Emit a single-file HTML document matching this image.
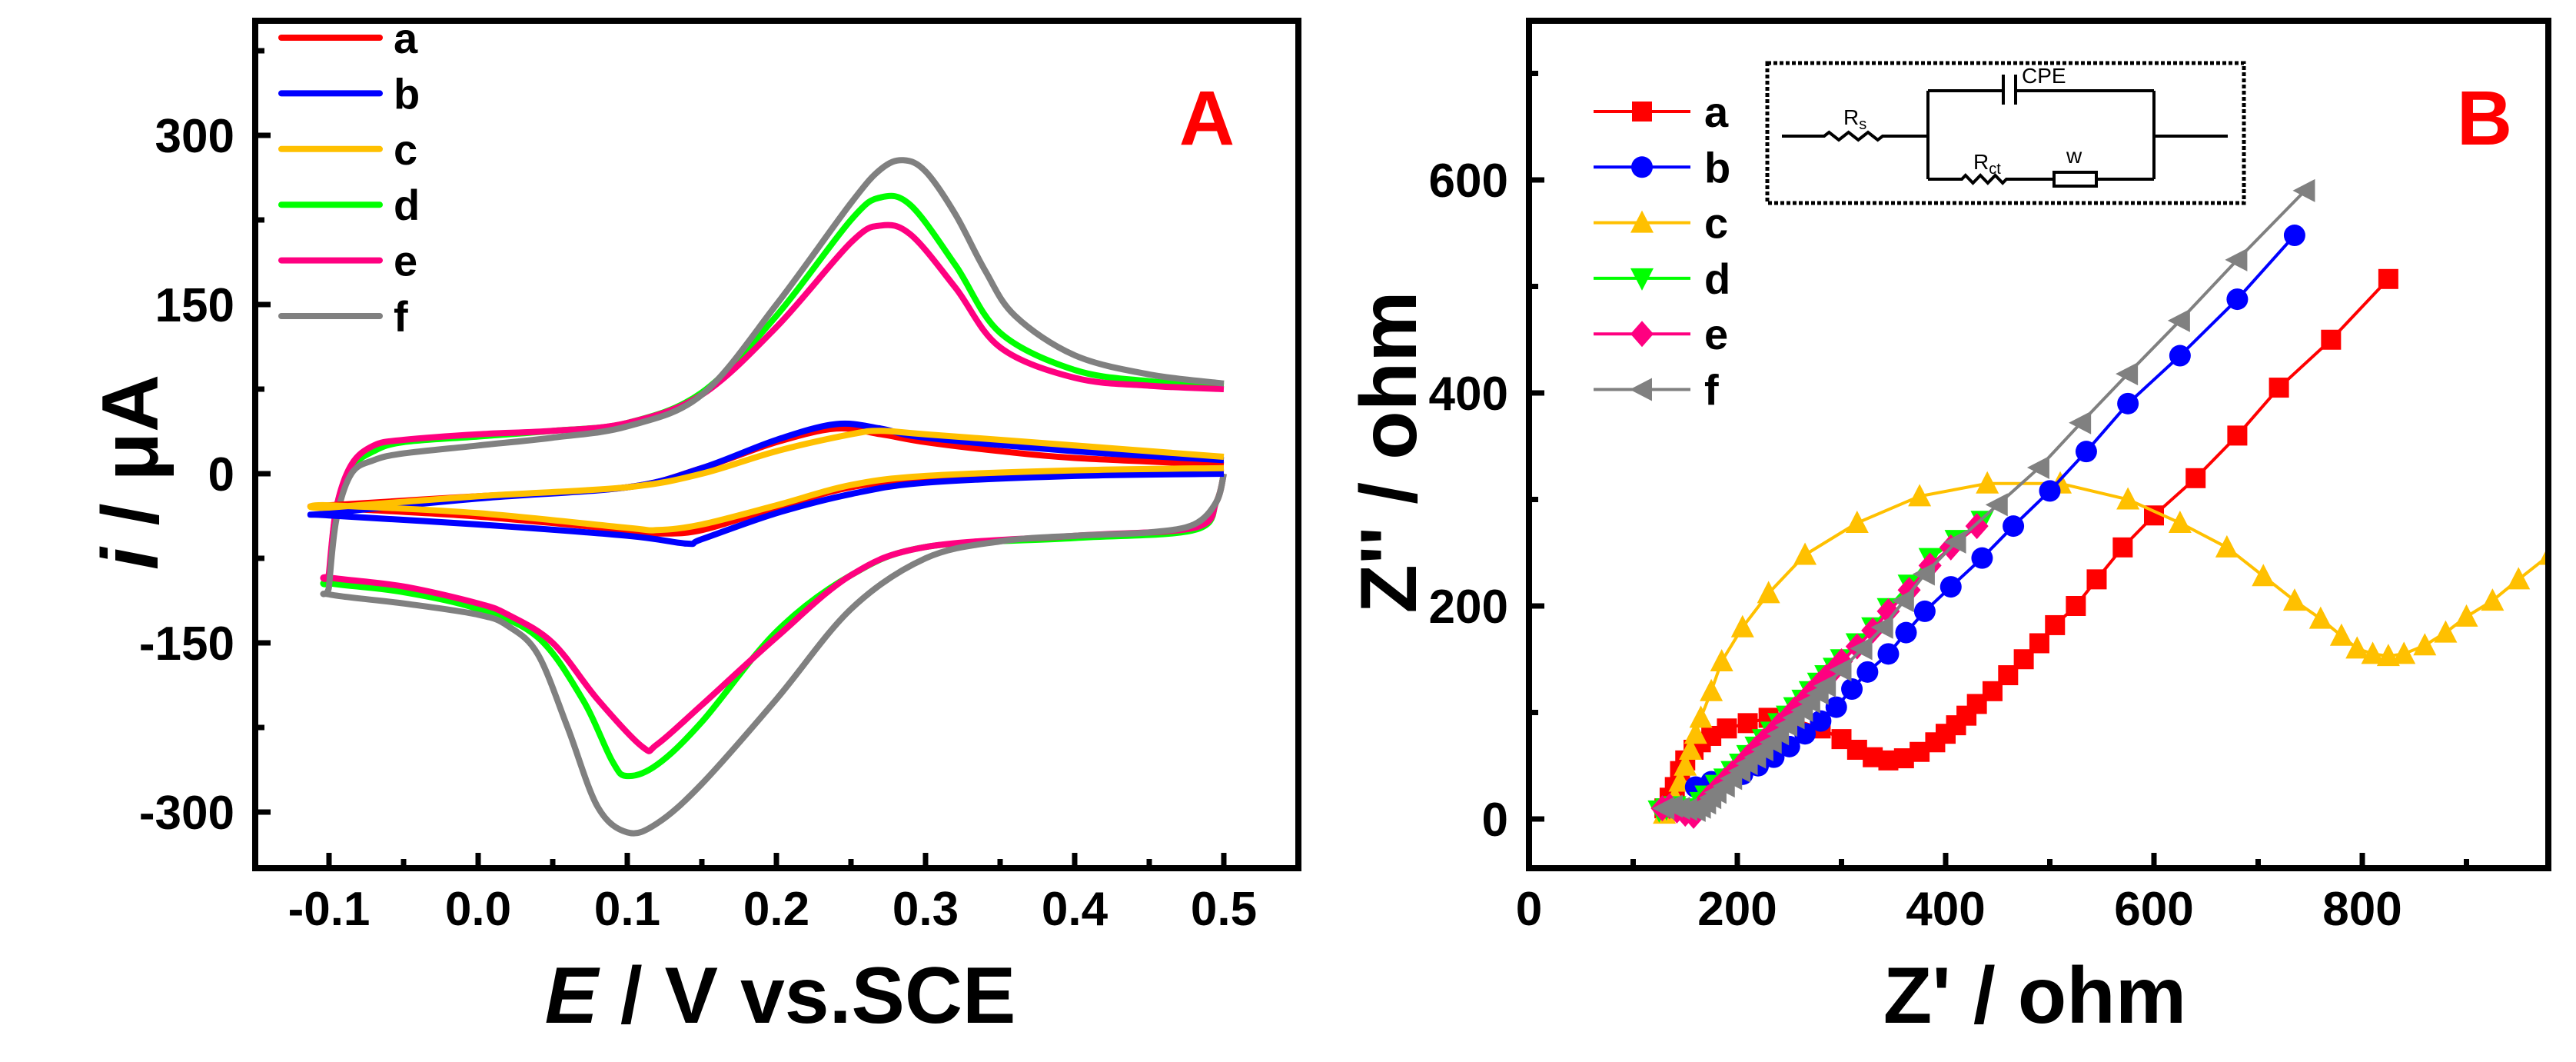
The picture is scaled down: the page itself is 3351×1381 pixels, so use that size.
<!DOCTYPE html>
<html><head><meta charset="utf-8"><style>
html,body{margin:0;padding:0;background:#fff;}
svg{display:block;font-family:"Liberation Sans",Arial,sans-serif;font-weight:bold;}
</style></head><body>
<svg id="root" width="3351" height="1381" viewBox="0 0 3351 1381" xmlns="http://www.w3.org/2000/svg">
<g id="panelA"></g>
<g id="panelB"></g>
</svg>
<script>
// ---------- Panel A data (CV): cathodic branch from 0.5 to -0.1, then anodic back to 0.5 ----------
const cvSeriesNames = ['a','b','c','d','e','f'];
const cvColors = ['#ff0000','#0000ff','#ffc000','#00ff00','#ff0080','#808080'];
const cvE_a = [0.5,0.4,0.3,0.25,0.2,0.15,0.12,0.1,0.0,-0.1, -0.1,0.0,0.1,0.15,0.2,0.24,0.27,0.3,0.35,0.4,0.5];
const cvI_a = [5,0,-5,-12,-30,-50,-53,-50,-38,-30, -28,-20,-12,5,28,40,35,28,20,14,8];
const cvE_b = [0.5,0.4,0.3,0.25,0.2,0.15,0.14,0.1,0.0,-0.1, -0.1,0.0,0.1,0.15,0.2,0.24,0.27,0.3,0.4,0.5];
const cvI_b = [0,-2,-8,-18,-35,-58,-62,-55,-45,-37, -35,-22,-12,5,30,44,40,32,20,12];
const cvE_c = [0.5,0.4,0.3,0.25,0.2,0.15,0.12,0.1,0.0,-0.1, -0.1,0.0,0.1,0.15,0.2,0.25,0.27,0.3,0.4,0.5];
const cvI_c = [5,3,-2,-10,-28,-45,-50,-48,-35,-28, -30,-20,-12,0,20,35,38,35,25,15];
const cvE_d = [0.5,0.495,0.48,0.4,0.3,0.25,0.2,0.15,0.12,0.1,0.09,0.07,0.04,0.0,-0.05,-0.1, -0.1,-0.095,-0.085,-0.07,-0.05,0.0,0.05,0.1,0.15,0.2,0.25,0.27,0.29,0.32,0.35,0.4,0.45,0.5];
const cvI_d = [0,-25,-50,-57,-65,-90,-140,-220,-258,-268,-255,-200,-145,-120,-105,-97, -92,-30,5,20,28,33,38,45,72,140,225,245,238,185,125,92,82,78];
const cvE_e = [0.5,0.495,0.48,0.4,0.3,0.25,0.2,0.15,0.12,0.11,0.08,0.05,0.02,0.0,-0.05,-0.1, -0.1,-0.095,-0.085,-0.07,-0.05,0.0,0.05,0.1,0.15,0.2,0.25,0.27,0.29,0.32,0.35,0.4,0.45,0.5];
const cvI_e = [0,-25,-48,-55,-65,-90,-145,-205,-240,-242,-200,-150,-125,-115,-100,-92, -88,-30,8,25,30,35,38,45,70,130,205,220,212,165,112,85,78,75];
const cvE_f = [0.5,0.495,0.48,0.45,0.4,0.35,0.3,0.25,0.2,0.15,0.12,0.1,0.08,0.06,0.04,0.02,0.0,-0.05,-0.1, -0.1,-0.095,-0.085,-0.07,-0.05,0.0,0.05,0.1,0.15,0.2,0.25,0.27,0.285,0.3,0.32,0.34,0.36,0.4,0.45,0.5];
const cvI_f = [0,-25,-45,-52,-55,-60,-75,-120,-200,-275,-310,-318,-295,-225,-160,-135,-125,-115,-107, -100,-40,0,12,18,25,32,42,70,150,240,270,278,268,230,180,140,105,88,80];
const cvXTicks = [-0.1,0.0,0.1,0.2,0.3,0.4,0.5];
const cvXTickLabels = ['-0.1','0.0','0.1','0.2','0.3','0.4','0.5'];
const cvYTicks = [-300,-150,0,150,300];
const cvYTickLabels = ['-300','-150','0','150','300'];

// ---------- Panel B data (EIS) ----------
const eisNames = ['a','b','c','d','e','f'];
const eisColors = ['#ff0000','#0000ff','#ffc000','#00ff00','#ff0080','#808080'];
const eisMarkers = ['square','circle','up','down','diamond','left'];
const zre_a = [130,135,140,145,150,158,165,175,190,210,230,255,280,300,315,330,345,360,375,390,400,410,420,430,445,460,475,490,505,525,545,570,600,640,680,720,770,825];
const zim_a = [10,20,30,45,55,65,72,78,85,90,95,93,85,75,65,58,55,57,63,72,80,88,97,108,120,135,150,165,182,200,225,255,285,320,360,405,450,507];
const zre_b = [160,175,190,205,220,235,250,265,280,295,310,325,345,362,380,405,435,465,500,535,575,625,680,735];
const zim_b = [30,35,38,42,50,58,68,80,92,105,122,138,155,175,195,218,245,275,308,345,390,435,488,548];
const zre_c = [130,140,145,150,155,160,165,175,185,205,230,265,315,375,440,510,575,625,670,705,735,760,780,795,810,825,840,860,880,900,925,950,980];
const zim_c = [5,20,35,50,65,80,95,120,148,180,212,248,278,303,315,315,300,278,255,228,205,188,172,160,155,153,155,163,175,190,205,225,248];
const zre_d = [125,132,140,150,160,165,170,180,188,195,203,210,218,225,233,240,248,255,263,270,278,285,293,300,315,330,345,365,385,410,435];
const zim_d = [8,10,12,5,10,16,22,32,38,45,52,60,68,75,82,90,97,105,112,120,128,135,142,150,165,180,198,220,245,262,280];
const zre_e = [128,135,142,150,158,165,172,180,188,195,203,210,218,225,233,240,248,255,263,270,278,285,293,300,315,330,345,365,385,405,430];
const zim_e = [10,12,8,5,3,12,20,28,36,43,50,58,66,73,80,88,95,103,110,118,126,133,140,148,162,177,195,215,238,255,275];
const zre_f = [130,138,145,152,160,165,170,175,180,188,195,203,210,218,225,233,240,248,255,263,270,278,285,300,320,340,360,380,410,450,490,530,575,625,680,745];
const zim_f = [10,12,10,9,8,11,15,20,25,31,38,45,52,58,65,72,80,88,95,102,110,118,125,140,160,180,205,230,260,295,330,372,418,468,525,590];
const eisXTicks = [0,200,400,600,800];
const eisXTickLabels = ['0','200','400','600','800'];
const eisYTicks = [0,200,400,600];
const eisYTickLabels = ['0','200','400','600'];

const NS='http://www.w3.org/2000/svg';
function mk(tag, attrs, parent){const e=document.createElementNS(NS,tag);for(const k in attrs)e.setAttribute(k,attrs[k]);parent.appendChild(e);return e;}

const A = {x0:332,x1:1689,y0:27,y1:1129};
function axX(v){return 428+(v+0.1)*1940;}
function axY(v){return 616-v*(220/150);}
const B = {x0:1989,x1:3315,y0:27,y1:1129};
function bxX(v){return 1989+v*(271/200);}
function bxY(v){return 1065-v*(277/200);}

function smoothPath(pts){
  let d='M'+pts[0][0].toFixed(1)+','+pts[0][1].toFixed(1);
  for(let i=0;i<pts.length-1;i++){
    const p0=pts[Math.max(0,i-1)],p1=pts[i],p2=pts[i+1],p3=pts[Math.min(pts.length-1,i+2)];
    const c1x=p1[0]+(p2[0]-p0[0])/6,c1y=p1[1]+(p2[1]-p0[1])/6;
    const c2x=p2[0]-(p3[0]-p1[0])/6,c2y=p2[1]-(p3[1]-p1[1])/6;
    d+=' C'+c1x.toFixed(1)+','+c1y.toFixed(1)+' '+c2x.toFixed(1)+','+c2y.toFixed(1)+' '+p2[0].toFixed(1)+','+p2[1].toFixed(1);
  }
  return d;
}

// ---------- Panel A ----------
const gA=document.getElementById('panelA');
const cvE=[cvE_a,cvE_b,cvE_c,cvE_d,cvE_e,cvE_f];
const cvI=[cvI_a,cvI_b,cvI_c,cvI_d,cvI_e,cvI_f];
const drawOrder=[3,4,5,0,1,2];
drawOrder.forEach(function(s){
  const pts=cvE[s].map(function(e,i){return [axX(e),axY(cvI[s][i])];});
  const p=mk('path',{d:smoothPath(pts),fill:'none',stroke:cvColors[s],'stroke-width':8,'stroke-linejoin':'round'},gA);
  
  
});
const frA=mk('rect',{x:A.x0,y:A.y0,width:A.x1-A.x0,height:A.y1-A.y0,fill:'none',stroke:'#000','stroke-width':8},gA);


cvXTicks.forEach(function(v,i){
  const x=axX(v);
  const t=mk('line',{x1:x,y1:A.y1,x2:x,y2:A.y1-20,stroke:'#000','stroke-width':7},gA);
  
  
  if(i<cvXTicks.length-1){
    const xm=axX(v+0.05);
    const m=mk('line',{x1:xm,y1:A.y1,x2:xm,y2:A.y1-12,stroke:'#000','stroke-width':7},gA);
    
    
  }
  const l=mk('text',{x:x,y:1203,'font-size':62,'text-anchor':'middle'},gA);
  l.textContent=cvXTickLabels[i];
  
  
});
cvYTicks.forEach(function(v,i){
  const y=axY(v);
  const t=mk('line',{x1:A.x0,y1:y,x2:A.x0+20,y2:y,stroke:'#000','stroke-width':7},gA);
  
  
  const l=mk('text',{x:305,y:y+22,'font-size':62,'text-anchor':'end'},gA);
  l.textContent=cvYTickLabels[i];
  
  
});
[-225,-75,75,225,375].forEach(function(v){
  const y=axY(v);
  const m=mk('line',{x1:A.x0,y1:y,x2:A.x0+12,y2:y,stroke:'#000','stroke-width':7},gA);
  
  
});
cvSeriesNames.forEach(function(n,s){
  const y=49+s*72.4;
  const ln=mk('line',{x1:366,y1:y,x2:494,y2:y,stroke:cvColors[s],'stroke-width':8,'stroke-linecap':'round'},gA);
  
  
  const tx=mk('text',{x:512,y:y+20,'font-size':56},gA);
  tx.textContent=n;
  
  
});
const labA=mk('text',{x:1570,y:188,'font-size':100,'text-anchor':'middle',fill:'#ff0000'},gA);
labA.textContent='A';


const xtA=mk('text',{x:1015,y:1330,'font-size':104,'text-anchor':'middle'},gA);
xtA.innerHTML='<tspan font-style="italic">E</tspan> / V vs.SCE';


const ytA=mk('text',{x:0,y:0,'font-size':104,'text-anchor':'middle',transform:'translate(205,614) rotate(-90)'},gA);
ytA.innerHTML='<tspan font-style="italic">i</tspan> / μA';



// ---------- Panel B ----------
const gB=document.getElementById('panelB');
const zre=[zre_a,zre_b,zre_c,zre_d,zre_e,zre_f];
const zim=[zim_a,zim_b,zim_c,zim_d,zim_e,zim_f];
function marker(type,x,y,color,parent){
  const r=13;let e;
  if(type==='square')e=mk('rect',{x:x-r,y:y-r,width:2*r,height:2*r,fill:color},parent);
  else if(type==='circle')e=mk('circle',{cx:x,cy:y,r:r+1,fill:color},parent);
  else{
    let p;
    if(type==='up')p=[[x,y-r-3],[x+r+2,y+r],[x-r-2,y+r]];
    else if(type==='down')p=[[x,y+r+3],[x+r+2,y-r],[x-r-2,y-r]];
    else if(type==='diamond')p=[[x,y-r-4],[x+r+2,y],[x,y+r+4],[x-r-2,y]];
    else p=[[x-r-3,y],[x+r,y-r-2],[x+r,y+r+2]];
    e=mk('polygon',{points:p.map(function(q){return q.join(',');}).join(' '),fill:color},parent);
  }
  return e;
}
const clipB=mk('clipPath',{id:'clipB'},gB);
mk('rect',{x:B.x0,y:B.y0,width:B.x1-B.x0,height:B.y1-B.y0},clipB);
const dataB=mk('g',{'clip-path':'url(#clipB)'},gB);


[0,2,1,3,4,5].forEach(function(s){
  const g=mk('g',{},dataB);
  
  
  const pts=zre[s].map(function(v,i){return bxX(v).toFixed(1)+','+bxY(zim[s][i]).toFixed(1);}).join(' ');
  const pl=mk('polyline',{points:pts,fill:'none',stroke:eisColors[s],'stroke-width':4},g);
  
  
  zre[s].forEach(function(v,i){
    const m=marker(eisMarkers[s],bxX(v),bxY(zim[s][i]),eisColors[s],g);
    
    
  });
});
const frB=mk('rect',{x:B.x0,y:B.y0,width:B.x1-B.x0,height:B.y1-B.y0,fill:'none',stroke:'#000','stroke-width':8},gB);


eisXTicks.forEach(function(v,i){
  const x=bxX(v);
  if(v>0){const t=mk('line',{x1:x,y1:B.y1,x2:x,y2:B.y1-20,stroke:'#000','stroke-width':7},gB);
  
  }
  const l=mk('text',{x:x,y:1203,'font-size':62,'text-anchor':'middle'},gB);
  l.textContent=eisXTickLabels[i];
  
  
});
[100,300,500,700,900].forEach(function(v){
  const x=bxX(v);
  const m=mk('line',{x1:x,y1:B.y1,x2:x,y2:B.y1-12,stroke:'#000','stroke-width':7},gB);
  
  
});
eisYTicks.forEach(function(v,i){
  const y=bxY(v);
  const t=mk('line',{x1:B.x0,y1:y,x2:B.x0+20,y2:y,stroke:'#000','stroke-width':7},gB);
  
  
  const l=mk('text',{x:1962,y:y+22,'font-size':62,'text-anchor':'end'},gB);
  l.textContent=eisYTickLabels[i];
  
  
});
[100,300,500,700].forEach(function(v){
  const y=bxY(v);
  const m=mk('line',{x1:B.x0,y1:y,x2:B.x0+12,y2:y,stroke:'#000','stroke-width':7},gB);
  
  
});
eisNames.forEach(function(n,s){
  const y=145+s*72.3;
  const ln=mk('line',{x1:2073,y1:y,x2:2199,y2:y,stroke:eisColors[s],'stroke-width':4},gB);
  
  
  const m=marker(eisMarkers[s],2136,y,eisColors[s],gB);
  
  
  const tx=mk('text',{x:2217,y:y+20,'font-size':56},gB);
  tx.textContent=n;
  
  
});
const labB=mk('text',{x:3232,y:188,'font-size':100,'text-anchor':'middle',fill:'#ff0000'},gB);
labB.textContent='B';


const xtB=mk('text',{x:2647,y:1330,'font-size':104,'text-anchor':'middle'},gB);
xtB.textContent="Z' / ohm";


const ytB=mk('text',{x:0,y:0,'font-size':104,'text-anchor':'middle',transform:'translate(1842,588) rotate(-90)'},gB);
ytB.textContent="Z'' / ohm";



// Circuit inset
const gc=mk('g',{fill:'none',stroke:'#000','stroke-width':4},gB);


const box=mk('rect',{x:2299,y:82,width:620,height:182,'stroke-dasharray':'5,3','stroke-width':5},gc);


function zig(x0,x1,y){let d='';const n=6,w=(x1-x0)/n;for(let i=0;i<n;i++){d+=' L'+(x0+w*(i+0.5))+','+(y+(i%2?5:-5))+' L'+(x0+w*(i+1))+','+y;}return d;}
mk('path',{d:'M2318,177 L2373,177'+zig(2373,2449,177)+' L2508,177'},gc);
mk('path',{d:'M2508,118 L2508,233 M2802,118 L2802,233 M2802,177 L2898,177 M2508,118 L2606,118 M2622,118 L2802,118 M2606,97 L2606,136 M2622,97 L2622,136 M2508,233 L2552,233'+zig(2552,2610,233)+' L2672,233 M2727,233 L2802,233'},gc);
mk('rect',{x:2672,y:224,width:55,height:18},gc);
function ctext(x,y,html,name){const t=mk('text',{x:x,y:y,'font-size':28,fill:'#000',stroke:'none','font-weight':'normal'},gB);t.innerHTML=html;}
ctext(2630,108,'CPE','cpe-label');
ctext(2398,162,'R<tspan font-size="20" dy="6">s</tspan>','rs-label');
ctext(2567,220,'R<tspan font-size="20" dy="6">ct</tspan>','rct-label');
ctext(2688,212,'w','w-label');
</script>
</body></html>
